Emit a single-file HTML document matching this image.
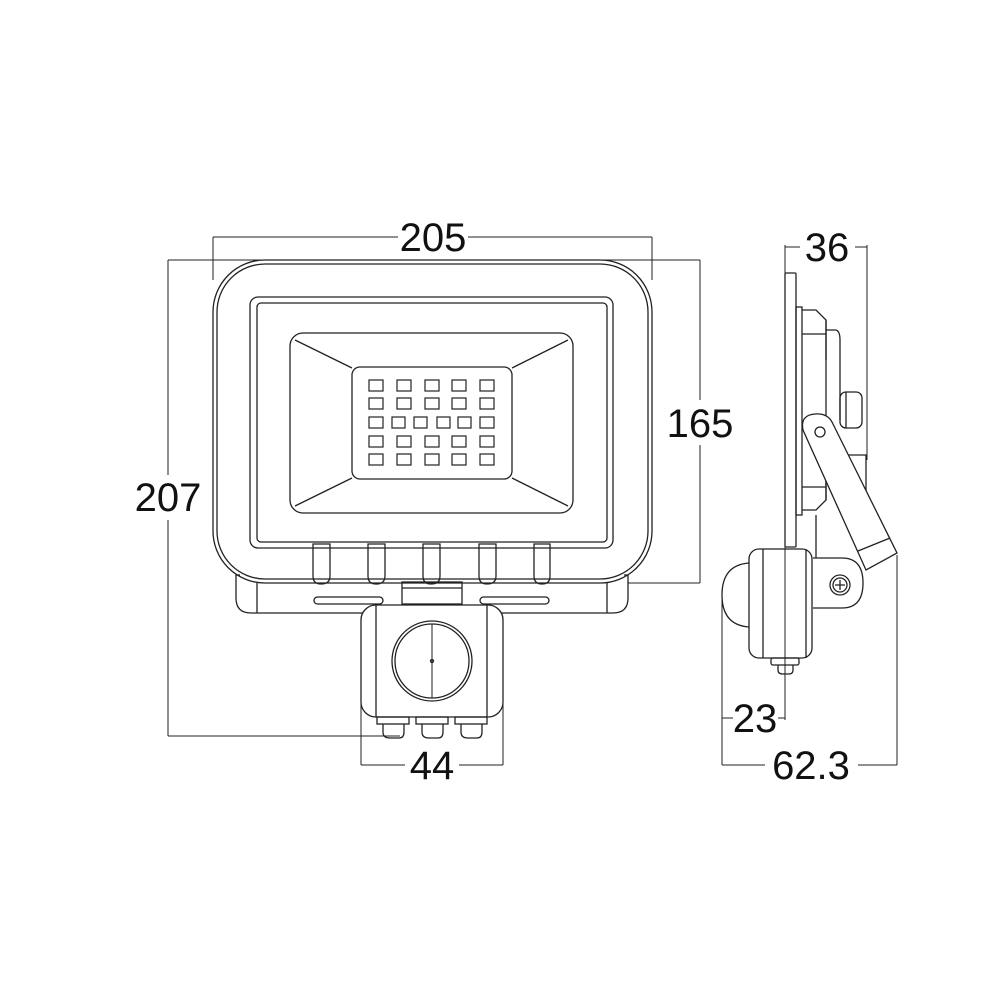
<!DOCTYPE html>
<html><head><style>html,body{margin:0;padding:0;background:#fff}svg{display:block}</style></head>
<body>
<svg width="1000" height="1000" viewBox="0 0 1000 1000" xmlns="http://www.w3.org/2000/svg">
<g fill="none" stroke="#222" stroke-width="1.3">
<!-- dimension lines front -->
<line x1="213" y1="237" x2="398" y2="237" stroke-width="1"/>
<line x1="468" y1="237" x2="652" y2="237" stroke-width="1"/>
<line x1="213" y1="237" x2="213" y2="280" stroke-width="1"/>
<line x1="652" y1="237" x2="652" y2="280" stroke-width="1"/>
<line x1="168" y1="260" x2="700" y2="260" stroke-width="1"/>
<line x1="168" y1="260" x2="168" y2="475" stroke-width="1"/>
<line x1="168" y1="520" x2="168" y2="736" stroke-width="1"/>
<line x1="168" y1="736" x2="400" y2="736" stroke-width="1"/>
<line x1="700" y1="260" x2="700" y2="400" stroke-width="1"/>
<line x1="700" y1="445" x2="700" y2="583" stroke-width="1"/>
<line x1="628" y1="583" x2="700" y2="583" stroke-width="1"/>
<line x1="361" y1="700" x2="361" y2="765" stroke-width="1"/>
<line x1="503" y1="700" x2="503" y2="765" stroke-width="1"/>
<line x1="361" y1="765" x2="405" y2="765" stroke-width="1"/>
<line x1="459" y1="765" x2="503" y2="765" stroke-width="1"/>

<!-- housing -->
<rect x="213" y="260" width="439" height="323" rx="52"/>
<rect x="217" y="264" width="431" height="315" rx="48"/>
<rect x="250" y="297" width="363" height="251" rx="8"/>
<rect x="257" y="303" width="350" height="239" rx="4"/>
<rect x="290" y="333" width="283" height="180" rx="13"/>
<rect x="352" y="367" width="160" height="112" rx="8"/>
<line x1="295" y1="340" x2="352" y2="368"/>
<line x1="568" y1="340" x2="512" y2="368"/>
<line x1="295" y1="506" x2="352" y2="478"/>
<line x1="568" y1="506" x2="512" y2="478"/>
<!-- LEDs -->
<g stroke-width="1.2">
<rect x="369" y="380" width="14" height="11"/><rect x="397" y="380" width="14" height="11"/><rect x="425" y="380" width="14" height="11"/><rect x="452" y="380" width="14" height="11"/><rect x="480" y="380" width="14" height="11"/>
<rect x="369" y="398" width="14" height="11"/><rect x="397" y="398" width="14" height="11"/><rect x="425" y="398" width="14" height="11"/><rect x="452" y="398" width="14" height="11"/><rect x="480" y="398" width="14" height="11"/>
<rect x="369" y="417" width="14" height="11"/><rect x="392" y="417" width="13" height="11"/><rect x="414" y="417" width="13" height="11"/><rect x="437" y="417" width="13" height="11"/><rect x="458" y="417" width="13" height="11"/><rect x="480" y="417" width="14" height="11"/>
<rect x="369" y="436" width="14" height="11"/><rect x="397" y="436" width="14" height="11"/><rect x="425" y="436" width="14" height="11"/><rect x="452" y="436" width="14" height="11"/><rect x="480" y="436" width="14" height="11"/>
<rect x="369" y="454" width="14" height="11"/><rect x="397" y="454" width="14" height="11"/><rect x="425" y="454" width="14" height="11"/><rect x="452" y="454" width="14" height="11"/><rect x="480" y="454" width="14" height="11"/>
</g>
<!-- fins -->
<path d="M313 544 V576 Q313 584 321 584 Q330 584 330 576 V544 Z"/>
<path d="M368 544 V576 Q368 584 376 584 Q385 584 385 576 V544 Z"/>
<path d="M423 544 V576 Q423 584 431 584 Q440 584 440 576 V544 Z"/>
<path d="M479 544 V576 Q479 584 487 584 Q496 584 496 576 V544 Z"/>
<path d="M534 544 V576 Q534 584 542 584 Q550 584 550 576 V544 Z"/>
<!-- bracket -->
<path d="M240 575 H236 V598 Q236 613 251 613 H613 Q628 613 628 598 V575 H624"/>
<path d="M257 583 V613 M607 583 V613"/>
<rect x="314" y="597" width="69" height="7" rx="3.5"/>
<rect x="480" y="597" width="69" height="7" rx="3.5"/>
<rect x="402" y="582" width="60" height="22"/>
<line x1="402" y1="588" x2="462" y2="588"/>
<!-- sensor box -->
<rect x="361" y="605" width="142" height="112" rx="15" fill="#fff"/>
<line x1="376" y1="605" x2="376" y2="717"/>
<line x1="487" y1="605" x2="487" y2="717"/>
<circle cx="432" cy="661" r="40"/>
<circle cx="432" cy="661" r="37"/>
<line x1="432" y1="624" x2="432" y2="698" stroke-width="1"/>
<circle cx="432" cy="661" r="1.5"/>
<rect x="377" y="717" width="32" height="7"/>
<rect x="416" y="717" width="32" height="7"/>
<rect x="455" y="717" width="32" height="7"/>
<path d="M383 724 V732 Q383 738 390 738 H399 Q404 738 404 732 V724"/>
<path d="M422 724 V732 Q422 738 429 738 H438 Q443 738 443 732 V724"/>
<path d="M461 724 V732 Q461 738 468 738 H477 Q482 738 482 732 V724"/>

<!-- side view dims -->
<line x1="785" y1="245" x2="785" y2="720" stroke-width="1"/>
<line x1="867" y1="245" x2="867" y2="460" stroke-width="1"/>
<line x1="785" y1="247" x2="800" y2="247" stroke-width="1"/>
<line x1="855" y1="247" x2="867" y2="247" stroke-width="1"/>
<line x1="722" y1="590" x2="722" y2="765" stroke-width="1"/>
<line x1="897" y1="555" x2="897" y2="765" stroke-width="1"/>
<line x1="722" y1="765" x2="765" y2="765" stroke-width="1"/>
<line x1="858" y1="765" x2="897" y2="765" stroke-width="1"/>
<line x1="722" y1="718" x2="733" y2="718" stroke-width="1"/>
<line x1="778" y1="718" x2="785" y2="718" stroke-width="1"/>

<!-- side body -->
<rect x="785" y="273" width="11" height="274" rx="1"/>
<rect x="796" y="307" width="6" height="208"/>
<path d="M802 310 H816 L826 320 V360 M802 334 H826"/>
<path d="M802 510 H816 L826 500 V460 M802 487 H826"/>
<path d="M826 330 H835 Q840 330 840 340 V420"/>
<path d="M826 320 V500"/>
<rect x="840" y="392" width="22" height="36" rx="6"/>
<line x1="846" y1="392" x2="846" y2="428"/>
<path d="M840 455 H866 V520"/>
<path d="M816 515 V558"/>
<!-- hinge plate -->
<path d="M813 558 H842 Q863 558 863 583 Q863 608 842 608 H813"/>
<circle cx="840" cy="585" r="10"/>
<circle cx="840" cy="585" r="7"/>
<path d="M835 585 H845 M840 580 V590"/>
<!-- arm -->
<path d="M803 430 Q800 415 815 414 Q827 413 832 422 L897 553 L866 570 Z" fill="#fff"/>
<line x1="858" y1="551" x2="890" y2="538"/>
<circle cx="820" cy="432" r="5"/>
<!-- sensor side -->
<path d="M749 563 Q722 565 722 595 Q722 625 749 627" />
<rect x="749" y="549" width="63" height="109" rx="10" fill="#fff"/>
<line x1="763" y1="549" x2="763" y2="658"/>
<line x1="806" y1="549" x2="806" y2="658"/>
<line x1="785" y1="549" x2="785" y2="720" stroke-width="1"/>
<rect x="771" y="658" width="28" height="7" rx="2"/>
<path d="M778 665 V670 Q778 674 783 674 H789 Q793 674 793 670 V665"/>
</g>
<g font-family="'Liberation Sans', sans-serif" font-size="40" fill="#111" text-anchor="middle">
<text x="433" y="251">205</text>
<text x="168" y="511">207</text>
<text x="700" y="437">165</text>
<text x="432" y="779">44</text>
<text x="827" y="261">36</text>
<text x="755" y="732">23</text>
<text x="811" y="779">62.3</text>
</g>
</svg>
</body></html>
